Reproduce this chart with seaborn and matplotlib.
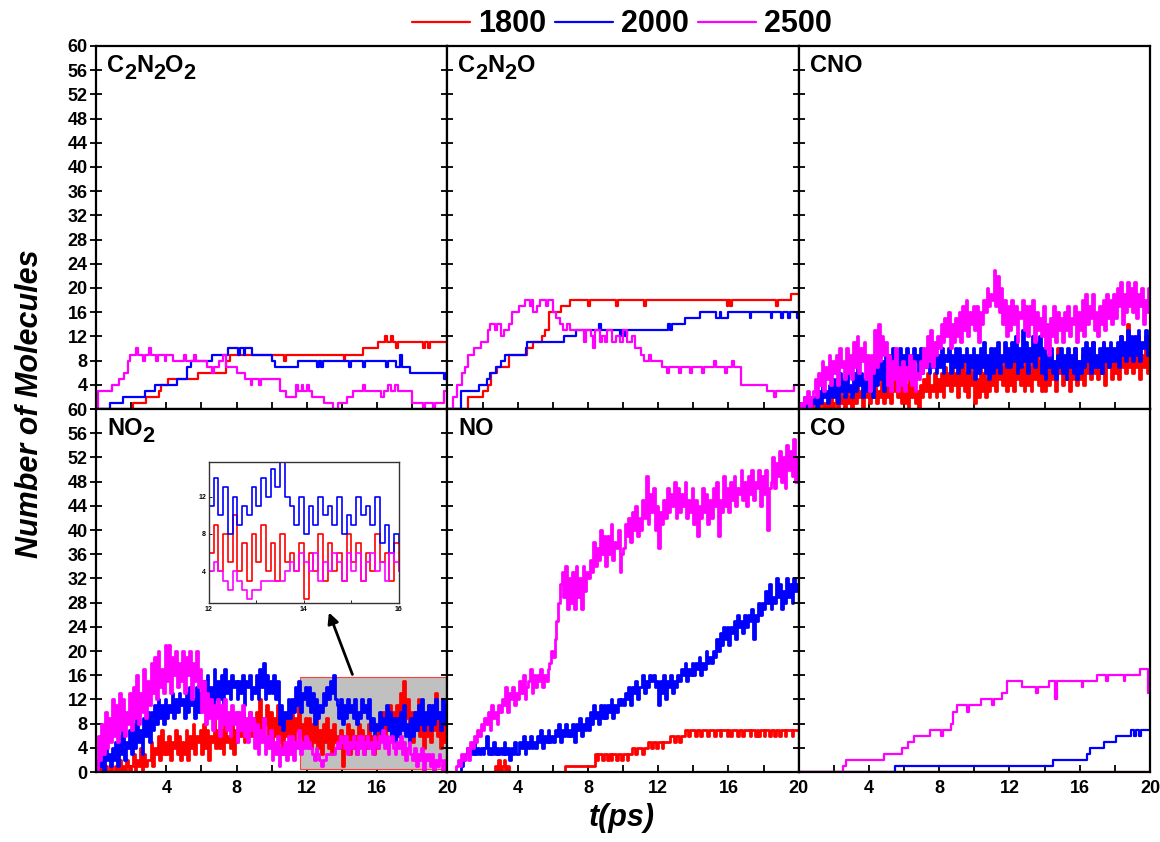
import numpy as np
import pandas as pd
import seaborn as sns
import matplotlib
matplotlib.use("Agg")
import matplotlib.pyplot as plt
import matplotlib.transforms as mtransforms
from matplotlib.lines import Line2D
from matplotlib.patches import Rectangle

sns.set_theme(style="white")
plt.rcParams["font.family"] = ["Liberation Sans", "DejaVu Sans"]
plt.rcParams["font.weight"] = "bold"
plt.rcParams["text.color"] = "black"
plt.rcParams["xtick.color"] = "black"
plt.rcParams["ytick.color"] = "black"
plt.rcParams["axes.labelcolor"] = "black"

temps = ["1800", "2000", "2500"]
colors = {"1800": "#ff0000", "2000": "#0000ff", "2500": "#ff00ff"}

# ---------------- step-like species: (time breakpoints, counts) ----------------
c2n2o2_t_1800 = [0, 2.1, 2.85, 3.6, 3.7, 4.1, 5.8, 7.4, 7.6, 10.7, 10.8, 14.1, 14.2, 15.2,
                 16.05, 16.45, 16.55, 16.8, 16.9, 17.1, 17.2, 18.6, 18.7, 18.9, 19.0, 20]
c2n2o2_n_1800 = [0, 1, 2, 3, 4, 5, 6, 8, 9, 8, 9, 8, 9, 10,
                 11, 12, 11, 12, 11, 10, 11, 10, 11, 10, 11, 11]
c2n2o2_t_2000 = [0, 0.8, 1.55, 2.8, 3.35, 4.6, 5.2, 5.4, 6.6, 7.5, 8.1, 8.2, 8.4, 8.5, 8.9,
                 10.0, 10.2, 11.5, 12.6, 12.7, 12.8, 12.9, 14.4, 14.5, 15.2, 15.3, 16.5, 16.6,
                 17.1, 17.3, 17.4, 17.9, 19.8, 19.9, 20]
c2n2o2_n_2000 = [0, 1, 2, 3, 4, 5, 7, 8, 9, 10, 9, 10, 9, 10, 9,
                 8, 7, 8, 7, 8, 7, 8, 7, 8, 7, 8, 7, 8,
                 7, 9, 7, 6, 5, 6, 6]
c2n2o2_t_2500 = [0, 0.1, 0.9, 1.3, 1.6, 1.8, 1.95, 2.3, 2.4, 2.7, 2.8, 3.0, 3.1, 3.4, 3.5,
                 3.9, 4.0, 4.4, 5.0, 5.1, 5.6, 5.7, 6.3, 6.6, 6.7, 7.0, 7.2, 7.4, 8.0, 8.5,
                 8.8, 8.9, 9.3, 9.4, 10.45, 10.8, 11.4, 11.5, 11.7, 11.8, 12.0, 12.1, 12.3,
                 13.0, 13.5, 13.8, 14.3, 14.6, 15.2, 15.3, 16.2, 16.4, 16.6, 16.8, 17.0, 17.2,
                 18.0, 18.6, 18.7, 19.2, 19.3, 19.8, 20]
c2n2o2_n_2500 = [0, 3, 4, 5, 6, 8, 9, 10, 9, 8, 9, 10, 9, 8, 9,
                 8, 9, 8, 9, 8, 9, 8, 7, 6, 7, 8, 9, 7, 6, 5,
                 4, 5, 4, 5, 3, 2, 4, 3, 4, 3, 4, 3, 2,
                 1, 0, 1, 2, 3, 4, 3, 2, 3, 4, 3, 4, 3,
                 1, 0, 1, 0, 1, 3, 3]

c2n2o_t_1800 = [0, 1.15, 2.0, 2.3, 2.5, 2.85, 3.5, 4.55, 4.85, 5.4, 5.55, 5.8, 6.45, 7.0,
                8.0, 8.1, 9.6, 9.7, 11.2, 11.3, 15.9, 16.0, 16.1, 16.2, 18.7, 18.8, 19.55, 20]
c2n2o_n_1800 = [0, 2, 3, 4, 6, 7, 9, 10, 11, 12, 13, 16, 17, 18,
                17, 18, 17, 18, 17, 18, 17, 18, 17, 18, 17, 18, 19, 19]
c2n2o_t_2000 = [0, 0.75, 1.8, 2.25, 2.45, 2.75, 3.05, 3.3, 4.45, 4.55, 6.65, 7.3, 8.65, 8.75,
                9.8, 9.9, 10.1, 10.2, 12.55, 12.7, 12.8, 13.5, 14.4, 15.3, 15.5, 15.6, 16.0,
                17.2, 17.3, 18.4, 18.5, 19.0, 19.1, 19.4, 19.5, 19.9, 20]
c2n2o_n_2000 = [0, 3, 4, 5, 6, 7, 8, 9, 10, 11, 12, 13, 14, 13,
                12, 13, 12, 13, 14, 13, 14, 15, 16, 15, 16, 15, 16,
                15, 16, 15, 16, 15, 16, 15, 16, 15, 16]
c2n2o_t_2500 = [0, 0.3, 0.55, 0.85, 1.0, 1.2, 1.5, 1.9, 2.3, 2.45, 2.7, 2.8, 3.05, 3.2, 3.5,
                3.7, 4.1, 4.4, 4.7, 4.8, 4.9, 5.1, 5.3, 5.6, 5.7, 6.0, 6.2, 6.4, 6.6, 6.8,
                7.0, 7.8, 7.9, 8.2, 8.3, 8.4, 8.7, 8.8, 9.0, 9.1, 9.4, 9.6, 9.8, 10.0, 10.2,
                10.5, 10.7, 11.0, 11.2, 11.5, 11.6, 12.2, 12.5, 12.6, 13.2, 13.3, 13.8, 13.9,
                14.5, 14.6, 15.2, 15.3, 15.8, 15.9, 16.2, 16.3, 16.7, 18.2, 18.6, 18.7, 19.75, 20]
c2n2o_n_2500 = [0, 2, 4, 6, 7, 9, 10, 11, 13, 14, 13, 14, 12, 13, 14,
                16, 17, 18, 17, 18, 16, 17, 18, 17, 18, 16, 15, 14, 13, 14,
                13, 11, 13, 12, 10, 13, 11, 12, 11, 13, 11, 12, 11, 13, 11,
                12, 10, 9, 8, 9, 8, 7, 6, 7, 6, 7, 6, 7,
                6, 7, 8, 7, 6, 7, 8, 7, 4, 3, 2, 3, 4, 4]

co_t_1800 = [0, 20]
co_n_1800 = [0, 0]
co_t_2000 = [0, 5.5, 14.5, 16.4, 16.6, 17.4, 18.05, 18.9, 19.1, 19.2, 19.4, 19.5, 20]
co_n_2000 = [0, 1, 2, 3, 4, 5, 6, 7, 6, 7, 6, 7, 7]
co_t_2500 = [0, 2.5, 2.7, 4.85, 5.9, 6.25, 6.55, 7.5, 8.1, 8.2, 8.65, 8.8, 9.0, 9.6, 9.7,
             10.35, 11.0, 11.1, 11.6, 11.85, 12.7, 13.5, 13.6, 14.25, 14.6, 14.7, 16.1, 16.2,
             17.0, 17.5, 17.6, 18.5, 18.6, 19.45, 19.9, 20]
co_n_2500 = [0, 1, 2, 3, 4, 5, 6, 7, 6, 7, 8, 10, 11, 10, 11,
             12, 11, 12, 13, 15, 14, 13, 14, 15, 12, 15, 14, 15,
             16, 15, 16, 15, 16, 17, 13, 13]

# ---------------- fluctuating species, sampled every 0.1 ps ----------------
no2_1800 = [0, 0, 1, 0, 0, 1, 0, 0, 1, 0,
            0, 1, 0, 2, 0, 1, 0, 2, 1, 0,
            1, 3, 0, 2, 1, 4, 0, 3, 1, 2,
            2, 5, 1, 4, 3, 6, 2, 7, 3, 5,
            3, 6, 2, 5, 4, 7, 3, 6, 2, 5,
            3, 7, 2, 6, 4, 8, 3, 6, 5, 7,
            3, 8, 4, 7, 2, 6, 5, 9, 4, 7,
            4, 7, 3, 8, 5, 6, 4, 8, 3, 7,
            5, 9, 6, 10, 5, 8, 7, 10, 6, 9,
            6, 10, 7, 12, 6, 9, 8, 11, 5, 10,
            4, 9, 6, 11, 5, 8, 3, 9, 6, 10,
            6, 10, 5, 9, 7, 11, 6, 8, 5, 9,
            6, 9, 4, 8, 5, 10, 4, 7, 3, 8,
            5, 9, 4, 7, 3, 8, 5, 6, 4, 7,
            1, 6, 4, 8, 3, 7, 4, 6, 3, 8,
            5, 7, 3, 6, 4, 8, 5, 6, 3, 7,
            4, 8, 6, 10, 5, 9, 7, 11, 6, 10,
            6, 11, 7, 13, 8, 15, 9, 12, 7, 10,
            5, 10, 7, 12, 6, 9, 4, 8, 6, 11,
            5, 9, 7, 13, 6, 10, 4, 8, 5, 9,
            7]
no2_2000 = [0, 2, 1, 3, 0, 4, 2, 3, 1, 4,
            2, 5, 1, 6, 3, 7, 2, 5, 4, 7,
            3, 8, 4, 9, 5, 7, 3, 9, 6, 10,
            5, 10, 7, 11, 8, 12, 9, 11, 8, 12,
            9, 11, 10, 13, 9, 12, 10, 13, 11, 12,
            9, 13, 10, 14, 11, 12, 9, 14, 10, 13,
            11, 15, 10, 16, 12, 14, 11, 17, 12, 15,
            12, 16, 11, 17, 13, 15, 12, 16, 14, 15,
            12, 15, 13, 16, 11, 15, 14, 16, 12, 14,
            13, 16, 12, 17, 14, 18, 12, 16, 13, 15,
            13, 16, 12, 15, 8, 11, 7, 10, 9, 12,
            9, 12, 10, 14, 11, 15, 10, 13, 12, 14,
            11, 14, 10, 13, 8, 12, 9, 11, 10, 13,
            11, 14, 12, 15, 13, 16, 12, 11, 9, 12,
            8, 11, 9, 12, 10, 11, 9, 12, 8, 10,
            9, 12, 10, 11, 9, 12, 7, 9, 6, 8,
            7, 10, 6, 9, 8, 11, 7, 10, 6, 9,
            5, 9, 6, 10, 7, 11, 6, 8, 5, 9,
            6, 10, 7, 11, 8, 12, 7, 10, 8, 11,
            7, 11, 8, 12, 9, 10, 7, 12, 8, 11,
            9]
no2_2500 = [0, 6, 2, 8, 3, 10, 4, 9, 5, 12,
            6, 11, 5, 13, 7, 12, 6, 10, 8, 13,
            7, 14, 9, 16, 8, 13, 10, 17, 9, 15,
            11, 18, 13, 19, 12, 20, 14, 17, 13, 21,
            15, 21, 13, 19, 16, 20, 14, 18, 15, 20,
            13, 19, 16, 20, 12, 18, 15, 20, 14, 17,
            10, 15, 8, 13, 9, 12, 7, 11, 9, 12,
            6, 11, 8, 12, 7, 10, 6, 11, 8, 10,
            5, 10, 7, 11, 6, 9, 5, 10, 7, 9,
            4, 8, 3, 7, 5, 9, 3, 6, 4, 7,
            2, 5, 3, 6, 1, 4, 3, 5, 2, 6,
            3, 6, 2, 5, 4, 7, 3, 5, 4, 6,
            4, 5, 4, 3, 2, 4, 3, 2, 1, 2,
            2, 3, 3, 3, 3, 3, 4, 5, 4, 6,
            5, 4, 6, 3, 5, 4, 6, 5, 3, 6,
            4, 6, 3, 5, 6, 4, 5, 3, 6, 5,
            4, 6, 5, 7, 4, 6, 3, 5, 6, 4,
            3, 5, 4, 6, 3, 5, 2, 4, 5, 3,
            2, 4, 1, 3, 2, 4, 0, 3, 2, 3,
            1, 3, 0, 2, 1, 3, 2, 0, 2, 1,
            2]

cno_1800 = [0, 0, 0, 1, 0, 0, 0, 1, 0, 0,
            0, 1, 0, 0, 1, 0, 1, 0, 2, 0,
            1, 2, 0, 3, 1, 2, 0, 3, 1, 2,
            0, 3, 1, 4, 2, 3, 0, 4, 2, 3,
            1, 4, 2, 5, 1, 3, 2, 5, 1, 4,
            2, 5, 1, 6, 3, 5, 2, 6, 1, 4,
            1, 4, 0, 5, 2, 4, 1, 3, 0, 4,
            2, 5, 3, 6, 2, 4, 3, 6, 2, 5,
            3, 6, 2, 7, 4, 6, 3, 8, 4, 6,
            2, 7, 4, 8, 3, 6, 2, 7, 4, 6,
            1, 5, 2, 7, 3, 6, 2, 5, 3, 7,
            4, 8, 3, 9, 5, 7, 4, 8, 3, 7,
            4, 8, 3, 9, 5, 8, 4, 7, 3, 9,
            4, 7, 3, 8, 5, 9, 4, 8, 3, 7,
            3, 7, 4, 9, 5, 8, 3, 10, 6, 8,
            4, 8, 5, 9, 3, 7, 5, 10, 4, 8,
            5, 9, 4, 10, 6, 9, 5, 11, 6, 8,
            5, 8, 6, 11, 4, 9, 7, 10, 5, 9,
            6, 10, 5, 12, 7, 9, 6, 14, 7, 10,
            6, 11, 7, 12, 5, 9, 7, 12, 6, 9,
            8]
cno_2000 = [0, 1, 0, 2, 0, 1, 0, 2, 1, 2,
            0, 3, 1, 4, 2, 3, 1, 4, 2, 5,
            2, 5, 1, 6, 3, 5, 2, 6, 3, 4,
            2, 6, 3, 7, 4, 6, 2, 5, 3, 7,
            3, 8, 2, 9, 4, 10, 5, 8, 3, 9,
            5, 9, 6, 10, 5, 8, 7, 10, 6, 9,
            6, 10, 7, 9, 6, 10, 8, 9, 6, 10,
            6, 9, 7, 10, 6, 8, 7, 10, 6, 9,
            7, 10, 6, 9, 8, 10, 6, 9, 7, 10,
            6, 10, 7, 9, 8, 10, 6, 9, 7, 10,
            5, 9, 6, 10, 7, 11, 6, 9, 5, 10,
            6, 10, 7, 11, 6, 9, 8, 11, 7, 10,
            7, 11, 8, 12, 6, 10, 7, 13, 8, 11,
            6, 10, 8, 12, 7, 11, 9, 12, 6, 10,
            5, 9, 7, 10, 6, 8, 5, 9, 7, 10,
            6, 9, 5, 10, 7, 9, 6, 10, 5, 8,
            6, 10, 7, 11, 8, 10, 6, 11, 7, 9,
            7, 10, 6, 11, 8, 10, 7, 11, 8, 10,
            8, 11, 7, 12, 9, 11, 8, 13, 9, 12,
            8, 12, 9, 13, 8, 11, 10, 13, 9, 12,
            11]
cno_2500 = [0, 1, 0, 2, 1, 3, 0, 2, 3, 5,
            2, 6, 4, 8, 3, 7, 5, 9, 4, 8,
            6, 9, 4, 10, 7, 8, 5, 10, 6, 9,
            5, 11, 7, 12, 6, 10, 8, 11, 5, 9,
            3, 9, 6, 13, 7, 14, 8, 12, 9, 11,
            4, 9, 3, 8, 5, 10, 3, 7, 4, 8,
            3, 7, 5, 9, 4, 8, 3, 6, 5, 8,
            6, 10, 7, 12, 8, 13, 7, 11, 9, 12,
            10, 14, 11, 15, 12, 16, 10, 14, 11, 15,
            12, 16, 11, 17, 13, 18, 12, 16, 14, 17,
            13, 17, 11, 16, 14, 18, 16, 20, 17, 19,
            18, 23, 17, 22, 16, 20, 14, 18, 12, 17,
            13, 18, 14, 17, 11, 16, 15, 18, 13, 17,
            12, 17, 14, 18, 11, 16, 13, 15, 12, 17,
            10, 14, 9, 15, 12, 17, 11, 16, 13, 15,
            11, 16, 13, 17, 12, 15, 14, 17, 11, 16,
            13, 18, 12, 19, 14, 17, 15, 19, 13, 16,
            12, 17, 14, 18, 13, 19, 15, 18, 14, 19,
            15, 20, 17, 21, 14, 19, 16, 21, 17, 20,
            16, 21, 15, 19, 17, 20, 14, 18, 16, 20,
            17]

no_1800 = [0, 0, 0, 0, 0, 0, 0, 0, 0, 0,
           0, 0, 0, 0, 0, 0, 0, 0, 0, 0,
           0, 0, 0, 0, 0, 0, 0, 1, 0, 2,
           0, 1, 2, 0, 1, 0, 0, 0, 0, 0,
           0, 0, 0, 0, 0, 0, 0, 0, 0, 0,
           0, 0, 0, 0, 0, 0, 0, 0, 0, 0,
           0, 0, 0, 0, 0, 0, 0, 1, 1, 1,
           1, 1, 1, 1, 1, 1, 1, 1, 1, 1,
           1, 1, 1, 1, 3, 2, 3, 3, 2, 3,
           3, 2, 3, 2, 3, 3, 2, 3, 3, 2,
           3, 3, 2, 3, 3, 4, 4, 3, 4, 4,
           4, 3, 4, 4, 5, 5, 4, 5, 5, 4,
           5, 5, 4, 5, 5, 5, 5, 6, 6, 5,
           6, 6, 5, 6, 6, 7, 7, 6, 7, 7,
           7, 6, 7, 7, 6, 7, 7, 7, 6, 7,
           7, 7, 6, 7, 7, 6, 7, 7, 7, 6,
           7, 6, 7, 7, 7, 6, 7, 7, 6, 7,
           7, 7, 6, 7, 7, 6, 7, 6, 7, 7,
           6, 7, 7, 6, 7, 7, 6, 7, 7, 6,
           7, 7, 6, 7, 7, 7, 6, 7, 7, 7,
           7]
no_2000 = [0, 0, 0, 0, 0, 0, 0, 0, 1, 2,
           3, 4, 3, 4, 3, 5, 3, 4, 3, 4,
           3, 4, 6, 3, 4, 3, 5, 3, 4, 3,
           4, 3, 5, 3, 4, 2, 4, 3, 5, 3,
           3, 5, 4, 6, 3, 5, 4, 6, 4, 5,
           4, 6, 5, 7, 4, 6, 5, 7, 5, 6,
           5, 7, 6, 8, 5, 7, 6, 8, 6, 7,
           6, 8, 5, 8, 7, 9, 6, 8, 7, 9,
           7, 10, 8, 11, 9, 10, 8, 11, 9, 11,
           9, 11, 10, 12, 9, 11, 10, 12, 11, 12,
           11, 13, 12, 14, 11, 14, 13, 15, 12, 14,
           14, 16, 13, 15, 14, 16, 15, 16, 14, 15,
           11, 15, 13, 16, 12, 15, 14, 16, 13, 15,
           14, 16, 15, 17, 16, 18, 15, 17, 16, 18,
           16, 18, 17, 19, 16, 18, 17, 20, 18, 19,
           18, 20, 19, 22, 20, 23, 21, 24, 22, 24,
           21, 24, 23, 25, 22, 26, 24, 25, 23, 26,
           24, 26, 25, 27, 22, 26, 25, 28, 26, 28,
           27, 30, 28, 31, 27, 29, 28, 32, 29, 31,
           27, 30, 28, 32, 29, 31, 28, 32, 30, 31,
           26]
no_2500 = [0, 0, 0, 0, 0, 1, 2, 1, 3, 2,
           3, 4, 2, 5, 4, 6, 5, 7, 6, 8,
           7, 9, 8, 10, 7, 11, 9, 10, 8, 11,
           10, 12, 11, 14, 10, 13, 12, 14, 11, 13,
           12, 15, 13, 16, 12, 14, 15, 17, 13, 16,
           14, 16, 15, 17, 14, 16, 15, 17, 18, 20,
           19, 22, 25, 28, 31, 33, 29, 34, 27, 32,
           28, 33, 27, 34, 29, 32, 27, 34, 30, 33,
           32, 35, 33, 38, 34, 37, 35, 40, 36, 39,
           34, 39, 36, 41, 35, 38, 37, 40, 33, 36,
           37, 41, 39, 42, 38, 43, 40, 44, 39, 42,
           40, 45, 42, 49, 41, 46, 43, 47, 40, 44,
           37, 43, 41, 45, 42, 47, 43, 46, 44, 48,
           42, 47, 43, 46, 44, 48, 42, 45, 43, 47,
           41, 45, 39, 44, 42, 47, 43, 46, 41, 45,
           42, 47, 44, 48, 39, 45, 43, 49, 44, 47,
           43, 48, 45, 49, 44, 47, 46, 50, 45, 48,
           44, 49, 46, 50, 45, 48, 47, 50, 44, 49,
           46, 50, 40, 47, 48, 52, 47, 51, 49, 53,
           48, 52, 47, 54, 50, 53, 49, 55, 48, 52,
           50]

SAMPLE_DT = 0.1


def sampled(values):
    return np.round(np.arange(len(values)) * SAMPLE_DT, 2), values


def long_frame(series):
    parts = []
    for temp in temps:
        t, n = series[temp]
        parts.append(pd.DataFrame({"t": t, "n": n, "T": temp}))
    return pd.concat(parts, ignore_index=True)


# (formula pieces, data, line width)
panels = [
    ([("C", False), ("2", True), ("N", False), ("2", True), ("O", False), ("2", True)],
     {"1800": (c2n2o2_t_1800, c2n2o2_n_1800), "2000": (c2n2o2_t_2000, c2n2o2_n_2000),
      "2500": (c2n2o2_t_2500, c2n2o2_n_2500)}, 1.6),
    ([("C", False), ("2", True), ("N", False), ("2", True), ("O", False)],
     {"1800": (c2n2o_t_1800, c2n2o_n_1800), "2000": (c2n2o_t_2000, c2n2o_n_2000),
      "2500": (c2n2o_t_2500, c2n2o_n_2500)}, 1.6),
    ([("CNO", False)],
     {"1800": sampled(cno_1800), "2000": sampled(cno_2000), "2500": sampled(cno_2500)}, 2.0),
    ([("NO", False), ("2", True)],
     {"1800": sampled(no2_1800), "2000": sampled(no2_2000), "2500": sampled(no2_2500)}, 2.0),
    ([("NO", False)],
     {"1800": sampled(no_1800), "2000": sampled(no_2000), "2500": sampled(no_2500)}, 2.0),
    ([("CO", False)],
     {"1800": (co_t_1800, co_n_1800), "2000": (co_t_2000, co_n_2000),
      "2500": (co_t_2500, co_n_2500)}, 1.6),
]

fig, axes = plt.subplots(2, 3, figsize=(11.6, 8.42), dpi=100)
fig.subplots_adjust(left=0.0828, right=0.9914, top=0.9454, bottom=0.0831,
                    wspace=0, hspace=0)
renderer = fig.canvas.get_renderer()


def formula_label(ax, parts, size=17):
    """Write a chemical formula with lowered, nearly full-size subscripts."""
    x_pt = 0.0
    for txt, sub in parts:
        tr = mtransforms.offset_copy(ax.transAxes, fig=fig, x=x_pt,
                                     y=-0.3 * size if sub else 0.0, units="points")
        t = ax.text(0.031, 0.928, txt, transform=tr, fontsize=size * (0.92 if sub else 1.0),
                    fontweight="bold", va="baseline", ha="left", color="black", zorder=6)
        x_pt += t.get_window_extent(renderer).width * 72.0 / fig.dpi


def draw_lines(ax, df, lw):
    sns.lineplot(data=df, x="t", y="n", hue="T", hue_order=temps, palette=colors,
                 estimator=None, sort=False, errorbar=None, drawstyle="steps-post",
                 linewidth=lw, legend=False, ax=ax)


frames = []
for i, (ax, (label, series, lw)) in enumerate(zip(axes.flat, panels)):
    row, col = divmod(i, 3)
    df = long_frame(series)
    frames.append(df)
    if i == 3:
        ax.add_patch(Rectangle((11.6, 0.5), 8.4, 15.25, facecolor="#c0c0c0",
                               edgecolor="#ff4040", linewidth=0.8, zorder=1))
    draw_lines(ax, df, lw)
    ax.set_xlim(0, 20)
    ax.set_ylim(0, 60)
    ax.set_xlabel("")
    ax.set_ylabel("")
    ax.set_facecolor("white")
    for sp in ax.spines.values():
        sp.set_visible(True)
        sp.set_color("black")
        sp.set_linewidth(1.6)
    ax.set_xticks(range(0, 21, 2))
    ax.set_yticks(range(0, 61, 4))
    ax.tick_params(axis="x", direction="in", length=5, width=1.3, color="black",
                   labelsize=13, labelcolor="black", pad=6, bottom=True)
    ax.tick_params(axis="y", direction="inout", length=8, width=1.3, color="black",
                   labelsize=13, labelcolor="black", pad=2, left=True)
    if row == 1:
        ax.set_xticklabels(["" if (v == 0 or v % 4) else str(v) for v in range(0, 21, 2)],
                           fontweight="bold")
    else:
        ax.tick_params(axis="x", labelbottom=False)
    if col == 0:
        ylabels = [str(v) for v in range(0, 61, 4)]
        if row == 0:
            ylabels[0] = ""
        ax.set_yticklabels(ylabels, fontweight="bold")
    else:
        ax.tick_params(axis="y", labelleft=False)
    formula_label(ax, label)

# zoomed view of the shaded NO2 window
ax_no2 = axes[1, 0]
ax_no2.annotate("", xy=(13.2, 26.8), xytext=(14.65, 15.7),
                arrowprops=dict(arrowstyle="-|>", color="black", lw=2.0,
                                mutation_scale=16), zorder=7)
inset = fig.add_axes([0.180, 0.2838, 0.1638, 0.1675])
draw_lines(inset, frames[3], 1.2)
inset.set_xlim(12, 16)
inset.set_ylim(0.6, 15.7)
inset.set_xlabel("")
inset.set_ylabel("")
inset.set_facecolor("white")
for sp in inset.spines.values():
    sp.set_visible(True)
    sp.set_color("#333333")
    sp.set_linewidth(1.0)
inset.set_xticks([12, 14, 16])
inset.set_xticks([13, 15], minor=True)
inset.set_yticks([4, 8, 12])
inset.tick_params(which="both", direction="in", length=2, width=0.6, labelsize=5,
                  labelcolor="black", pad=2, bottom=True, left=True)

# legend and axis titles
handles = [Line2D([], [], color=colors[t], lw=1.6) for t in temps]
fig.legend(handles, temps, loc="center", bbox_to_anchor=(0.536, 0.971), ncol=3,
           frameon=False, handlelength=1.9, handletextpad=0.25, columnspacing=0.3,
           labelcolor="black",
           prop=dict(family="Liberation Sans", weight="bold", size=22))
fig.text(0.026, 0.52, "Number of Molecules", rotation=90, fontsize=22, color="black",
         fontweight="bold", fontstyle="italic", ha="center", va="center")
fig.text(0.536, 0.028, "t(ps)", fontsize=22, fontweight="bold", fontstyle="italic",
         color="black", ha="center", va="center")

fig.savefig("out.png", dpi=100, facecolor="white")
